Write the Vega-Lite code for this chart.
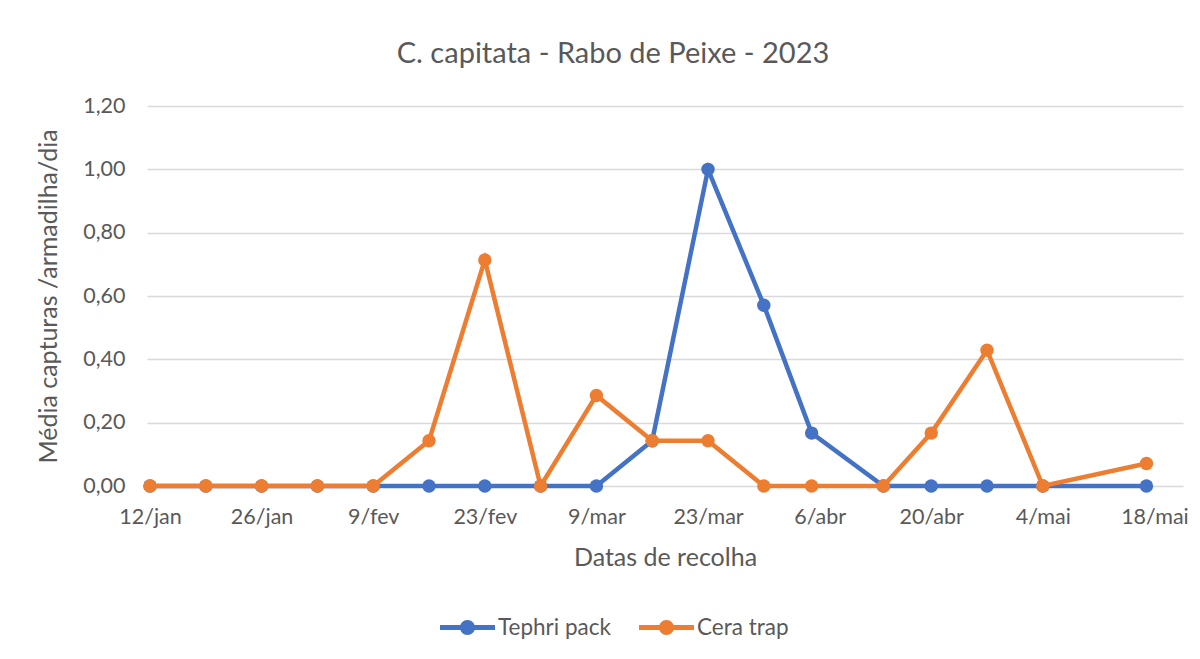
{
  "$schema": "https://vega.github.io/schema/vega-lite/v6.json",
  "width": 1036,
  "height": 380,
  "autosize": {"type": "none"},
  "padding": {"left": 147, "top": 106, "right": 17, "bottom": 173},
  "background": "white",
  "title": {
    "text": "C. capitata - Rabo de Peixe - 2023",
    "anchor": "middle",
    "frame": "group",
    "dx": -52,
    "offset": 26,
    "font": "Lato",
    "fontSize": 29,
    "fontWeight": "normal",
    "color": "#595959"
  },
  "data": {
    "values": [
      {"data": "2023-01-12T00:00:00", "serie": "Tephri pack", "valor": 0},
      {"data": "2023-01-19T00:00:00", "serie": "Tephri pack", "valor": 0},
      {"data": "2023-01-26T00:00:00", "serie": "Tephri pack", "valor": 0},
      {"data": "2023-02-02T00:00:00", "serie": "Tephri pack", "valor": 0},
      {"data": "2023-02-09T00:00:00", "serie": "Tephri pack", "valor": 0},
      {"data": "2023-02-16T00:00:00", "serie": "Tephri pack", "valor": 0},
      {"data": "2023-02-23T00:00:00", "serie": "Tephri pack", "valor": 0},
      {"data": "2023-03-02T00:00:00", "serie": "Tephri pack", "valor": 0},
      {"data": "2023-03-09T00:00:00", "serie": "Tephri pack", "valor": 0},
      {"data": "2023-03-16T00:00:00", "serie": "Tephri pack", "valor": 0.143},
      {"data": "2023-03-23T00:00:00", "serie": "Tephri pack", "valor": 1.0},
      {"data": "2023-03-30T00:00:00", "serie": "Tephri pack", "valor": 0.571},
      {"data": "2023-04-05T00:00:00", "serie": "Tephri pack", "valor": 0.167},
      {"data": "2023-04-14T00:00:00", "serie": "Tephri pack", "valor": 0},
      {"data": "2023-04-20T00:00:00", "serie": "Tephri pack", "valor": 0},
      {"data": "2023-04-27T00:00:00", "serie": "Tephri pack", "valor": 0},
      {"data": "2023-05-04T00:00:00", "serie": "Tephri pack", "valor": 0},
      {"data": "2023-05-17T00:00:00", "serie": "Tephri pack", "valor": 0},
      {"data": "2023-01-12T00:00:00", "serie": "Cera trap", "valor": 0},
      {"data": "2023-01-19T00:00:00", "serie": "Cera trap", "valor": 0},
      {"data": "2023-01-26T00:00:00", "serie": "Cera trap", "valor": 0},
      {"data": "2023-02-02T00:00:00", "serie": "Cera trap", "valor": 0},
      {"data": "2023-02-09T00:00:00", "serie": "Cera trap", "valor": 0},
      {"data": "2023-02-16T00:00:00", "serie": "Cera trap", "valor": 0.143},
      {"data": "2023-02-23T00:00:00", "serie": "Cera trap", "valor": 0.714},
      {"data": "2023-03-02T00:00:00", "serie": "Cera trap", "valor": 0},
      {"data": "2023-03-09T00:00:00", "serie": "Cera trap", "valor": 0.286},
      {"data": "2023-03-16T00:00:00", "serie": "Cera trap", "valor": 0.143},
      {"data": "2023-03-23T00:00:00", "serie": "Cera trap", "valor": 0.143},
      {"data": "2023-03-30T00:00:00", "serie": "Cera trap", "valor": 0},
      {"data": "2023-04-05T00:00:00", "serie": "Cera trap", "valor": 0},
      {"data": "2023-04-14T00:00:00", "serie": "Cera trap", "valor": 0},
      {"data": "2023-04-20T00:00:00", "serie": "Cera trap", "valor": 0.167},
      {"data": "2023-04-27T00:00:00", "serie": "Cera trap", "valor": 0.429},
      {"data": "2023-05-04T00:00:00", "serie": "Cera trap", "valor": 0},
      {"data": "2023-05-17T00:00:00", "serie": "Cera trap", "valor": 0.071}
    ]
  },
  "encoding": {
    "x": {
      "field": "data",
      "type": "temporal",
      "title": "Datas de recolha",
      "scale": {
        "domain": [
          {"year": 2023, "month": 1, "date": 11, "hours": 15},
          {"year": 2023, "month": 5, "date": 21, "hours": 14}
        ]
      },
      "axis": {
        "values": [
          {"year": 2023, "month": 1, "date": 12},
          {"year": 2023, "month": 1, "date": 26},
          {"year": 2023, "month": 2, "date": 9},
          {"year": 2023, "month": 2, "date": 23},
          {"year": 2023, "month": 3, "date": 9},
          {"year": 2023, "month": 3, "date": 23},
          {"year": 2023, "month": 4, "date": 6},
          {"year": 2023, "month": 4, "date": 20},
          {"year": 2023, "month": 5, "date": 4},
          {"year": 2023, "month": 5, "date": 18}
        ],
        "labelExpr": "date(datum.value) + '/' + ['jan','fev','mar','abr','mai','jun'][month(datum.value)]",
        "grid": false,
        "domain": false,
        "ticks": false,
        "labelPadding": 20,
        "titlePadding": 18
      }
    },
    "y": {
      "field": "valor",
      "type": "quantitative",
      "title": "Média capturas /armadilha/dia",
      "scale": {"domain": [0, 1.2], "nice": false},
      "axis": {
        "values": [0, 0.2, 0.4, 0.6, 0.8, 1.0, 1.2],
        "labelExpr": "replace(format(datum.value, '.2f'), '.', ',')",
        "grid": true,
        "domain": false,
        "ticks": false,
        "labelPadding": 22,
        "titlePadding": 21
      }
    },
    "color": {
      "field": "serie",
      "type": "nominal",
      "scale": {"domain": ["Tephri pack", "Cera trap"], "range": ["#4472C4", "#ED7D31"]},
      "legend": {
        "title": null,
        "orient": "none",
        "direction": "horizontal",
        "legendX": 293,
        "legendY": 494,
        "symbolType": "M-1,-0.09 L1,-0.09 L1,0.09 L-1,0.09 Z M0.273,0 A0.273,0.273 0 1,1 -0.273,0 A0.273,0.273 0 1,1 0.273,0 Z",
        "symbolSize": 3025,
        "symbolStrokeWidth": 0,
        "labelOffset": 3,
        "columnPadding": 28,
        "encode": {
          "symbols": {
            "update": {
              "fill": {"scale": "color", "field": "value"},
              "stroke": {"value": "transparent"},
              "opacity": {"value": 1}
            }
          }
        }
      }
    }
  },
  "layer": [
    {
      "transform": [{"filter": "datum.serie === 'Tephri pack'"}],
      "mark": {"type": "line", "strokeWidth": 4.5, "point": {"filled": true, "size": 180, "opacity": 1}}
    },
    {
      "transform": [{"filter": "datum.serie === 'Cera trap'"}],
      "mark": {"type": "line", "strokeWidth": 4.5, "point": {"filled": true, "size": 180, "opacity": 1}}
    }
  ],
  "config": {
    "view": {"stroke": null},
    "font": "Lato",
    "axis": {
      "labelFont": "Lato",
      "labelFontSize": 21.5,
      "labelColor": "#595959",
      "titleFont": "Lato",
      "titleFontSize": 25,
      "titleFontWeight": "normal",
      "titleColor": "#595959",
      "gridColor": "#D9D9D9",
      "gridWidth": 1.3
    },
    "legend": {
      "labelFont": "Lato",
      "labelFontSize": 22.5,
      "labelColor": "#595959"
    }
  }
}
